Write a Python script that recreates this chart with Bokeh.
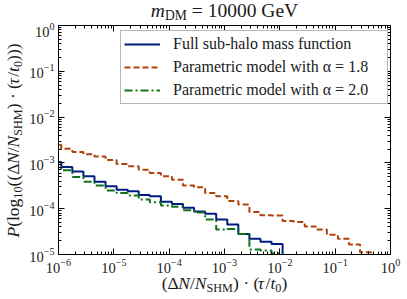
import numpy as np
from bokeh.plotting import figure
from bokeh.layouts import column, row
from bokeh.models import Label, LogAxis, Legend, LegendItem, LogTicker
from bokeh.embed import file_html
from bokeh.resources import INLINE

# ---------------- data ----------------
# log10 bin edges of (dN/N_SHM)*(tau/t0)
LOG_EDGES = [-6.15, -5.95, -5.75, -5.55, -5.35, -5.15, -4.95, -4.75, -4.55, -4.35,
             -4.15, -3.95, -3.75, -3.55, -3.35, -3.15, -2.95, -2.75, -2.55, -2.35,
             -2.15, -1.95, -1.75, -1.55, -1.35, -1.15, -0.95, -0.75, -0.55, -0.35, -0.15]
FULL_SHMF = [1.05e-3, 8.1e-4, 6.5e-4, 5.1e-4, 3.9e-4, 3.1e-4, 2.6e-4, 2.4e-4, 2.0e-4, 1.86e-4,
             1.41e-4, 1.26e-4, 1.05e-4, 8.7e-5, 7.8e-5, 5.8e-5, 4.5e-5, 2.8e-5, 2.2e-5, 1.9e-5,
             1.7e-5, 0, 0, 0, 0, 0, 0, 0, 0, 0]
ALPHA_18 = [2.45e-3, 2.04e-3, 1.74e-3, 1.55e-3, 1.38e-3, 1.15e-3, 9.5e-4, 8.5e-4, 7.1e-4, 6.0e-4,
            5.1e-4, 4.3e-4, 3.2e-4, 2.95e-4, 2.2e-4, 1.86e-4, 1.48e-4, 1.23e-4, 8.5e-5, 7.2e-5,
            7.1e-5, 5.4e-5, 5.1e-5, 4.1e-5, 3.5e-5, 2.7e-5, 2.2e-5, 1.66e-5, 1.12e-5, 0]
ALPHA_20 = [8.1e-4, 6.9e-4, 4.9e-4, 3.9e-4, 3.2e-4, 2.5e-4, 2.2e-4, 1.95e-4, 1.58e-4, 1.38e-4,
            1.17e-4, 1.10e-4, 9.3e-5, 8.3e-5, 5.8e-5, 3.5e-5, 3.6e-5, 2.8e-5, 1.29e-5, 1.23e-5,
            1.05e-5, 0, 0, 0, 0, 0, 0, 0, 0, 0]
LABELS = ["Full sub-halo mass function",
          "Parametric model with α = 1.8",
          "Parametric model with α = 2.0"]
COLORS = ["#001c7f", "#b1400d", "#12711c"]
DASHES = ["solid", "6 3", "8 3 2 3"]
X_RANGE = (1e-6, 1.0)
Y_RANGE = (1e-5, 1.0)
FLOOR = 1e-9  # empty bins drawn below the axis, as a step histogram drops to zero

FONT = "Liberation Serif"
TXT = "#1a1a1a"

# page layout: title strip, [y-label strip | main figure], x-label strip
TITLE_H, YLAB_W, MAIN_W, MAIN_H = 22, 24, 383, 253
TOTAL_W, TOTAL_H = 407, 299

p = figure(width=MAIN_W, height=MAIN_H, x_axis_type="log", y_axis_type="log",
           x_range=X_RANGE, y_range=Y_RANGE, output_backend="svg", toolbar_location=None,
           min_border_left=34, min_border_right=17, min_border_top=3, min_border_bottom=20,
           frame_align=False)
p.grid.visible = False
p.outline_line_color = "black"
p.background_fill_color = "white"
p.border_fill_color = "white"

def style_axis(ax, labels=True):
    ax.axis_line_color = "black"
    ax.axis_line_width = 1
    ax.major_tick_in = 6
    ax.major_tick_out = 0
    ax.minor_tick_in = 3
    ax.minor_tick_out = 0
    ax.major_tick_line_color = "black"
    ax.minor_tick_line_color = "black"
    ax.major_label_text_font = FONT
    ax.major_label_text_color = TXT
    ax.major_label_standoff = 4
    ax.major_label_text_font_size = "14.5px"
    if not labels:
        ax.major_label_text_alpha = 0.0
        ax.major_label_text_font_size = "2px"
        ax.major_label_standoff = 0

p.xaxis.ticker = LogTicker(desired_num_ticks=7, num_minor_ticks=10)
p.yaxis.ticker = LogTicker(desired_num_ticks=6, num_minor_ticks=10)
style_axis(p.xaxis[0])
style_axis(p.yaxis[0])
top = LogAxis(ticker=LogTicker(desired_num_ticks=7, num_minor_ticks=10))
right = LogAxis(ticker=LogTicker(desired_num_ticks=6, num_minor_ticks=10))
style_axis(top, False)
style_axis(right, False)
p.add_layout(top, "above")
p.add_layout(right, "right")

xs = [10 ** e for e in LOG_EDGES]
items = []
for vals, col, dash, lab in zip([FULL_SHMF, ALPHA_18, ALPHA_20], COLORS, DASHES, LABELS):
    yv = [v if v > 0 else FLOOR for v in vals]
    yv = yv + [yv[-1]]
    r = p.step(x=xs, y=yv, mode="after", line_color=col, line_width=2, line_dash=dash)
    items.append(LegendItem(label=lab, renderers=[r]))

leg = Legend(items=items, location=(62, 150), label_text_font=FONT, label_text_font_size="16px",
             label_text_color=TXT, padding=3, spacing=3, label_height=20, glyph_height=20,
             glyph_width=36, label_standoff=13, label_width=211, margin=0,
             border_line_color="#707070", border_line_width=1, background_fill_alpha=1.0)
p.add_layout(leg, "center")

# ---------------- strips carrying the composed math-like texts ----------------
def strip(w, h):
    f = figure(width=w, height=h, output_backend="svg", toolbar_location=None,
               x_axis_location=None, y_axis_location=None, min_border=0,
               min_border_left=0, min_border_right=0, min_border_top=0, min_border_bottom=0,
               x_range=(0, 1), y_range=(0, 1), frame_align=False)
    f.grid.visible = False
    f.outline_line_color = None
    f.background_fill_color = "white"
    f.border_fill_color = "white"
    return f

title_fig = strip(TOTAL_W, TITLE_H)
ylab_fig = strip(YLAB_W, MAIN_H)
xlab_fig = strip(TOTAL_W, TOTAL_H - TITLE_H - MAIN_H)

REG = {' ': .25, '(': .333, ')': .333, '/': .278, '·': .25, '=': .564, 'G': .722, 'e': .444,
       'V': .722, 'D': .722, 'M': .889, 'S': .556, 'H': .722, 'l': .278, 'o': .5, 'g': .5,
       'Δ': .612, 'N': .722, 'P': .556, 't': .278, 'm': .778}
IT = {'m': .722, 'P': .611, 'N': .667, 't': .278, 'τ': .44}
MID = 0.34  # distance (em) from baseline up to the middle of the text box

def width(t, size, italic):
    tab = IT if italic else REG
    return sum(tab.get(ch, REG.get(ch, .5)) for ch in t) * size

def compose(fig, segs, cx, base, size, vertical=False, drop=0.2):
    """cx: centre along the reading direction; base: baseline position (screen units)."""
    sizes = [size * 0.7 if sub else size for _, _, sub in segs]
    ws = [width(t, s, it) for (t, it, _), s in zip(segs, sizes)]
    pos = -sum(ws) / 2
    for (t, it, sub), s, w in zip(segs, sizes, ws):
        lead = len(t) - len(t.lstrip(" "))
        shown = t.strip(" ")
        start = pos + lead * REG[' '] * s      # leading blanks would be dropped by SVG
        up = (-drop * size if sub else 0.0) + MID * s
        if vertical:
            x, y, ang = base - up, cx + start, np.pi / 2
        else:
            x, y, ang = cx + start, base + up, 0
        fig.add_layout(Label(x=x, y=y, x_units="screen", y_units="screen", text=shown, angle=ang,
                             text_font=FONT, text_font_size=f"{s:.1f}px",
                             text_font_style="italic" if it else "normal",
                             text_align="left", text_baseline="middle", text_color=TXT))
        pos += w

FRAME_CX = 58 + 332 / 2          # page x of the frame centre
compose(title_fig, [("m", True, False), ("DM", False, True), (" = 10000 GeV", False, False)],
        FRAME_CX, TITLE_H - 17.0, 19.5, drop=0.16)
xlab = [("(Δ", False, False), ("N", True, False), ("/", False, False), ("N", True, False),
        ("SHM", False, True), (") · (", False, False), ("τ", True, False), ("/", False, False),
        ("t", True, False), ("0", False, True), (")", False, False)]
compose(xlab_fig, xlab, FRAME_CX, 11, 17.5)
ylab = [("P", True, False), ("(log", False, False), ("10", False, True), ("((Δ", False, False),
        ("N", True, False), ("/", False, False), ("N", True, False), ("SHM", False, True),
        (") · (", False, False), ("τ", True, False), ("/", False, False), ("t", True, False),
        ("0", False, True), (")))", False, False)]
compose(ylab_fig, ylab, (TITLE_H + MAIN_H) - 140, 18, 17.5, vertical=True)

layout = column(title_fig, row(ylab_fig, p, spacing=0), xlab_fig, spacing=0)
open("out.html", "w").write(file_html(layout, INLINE))
